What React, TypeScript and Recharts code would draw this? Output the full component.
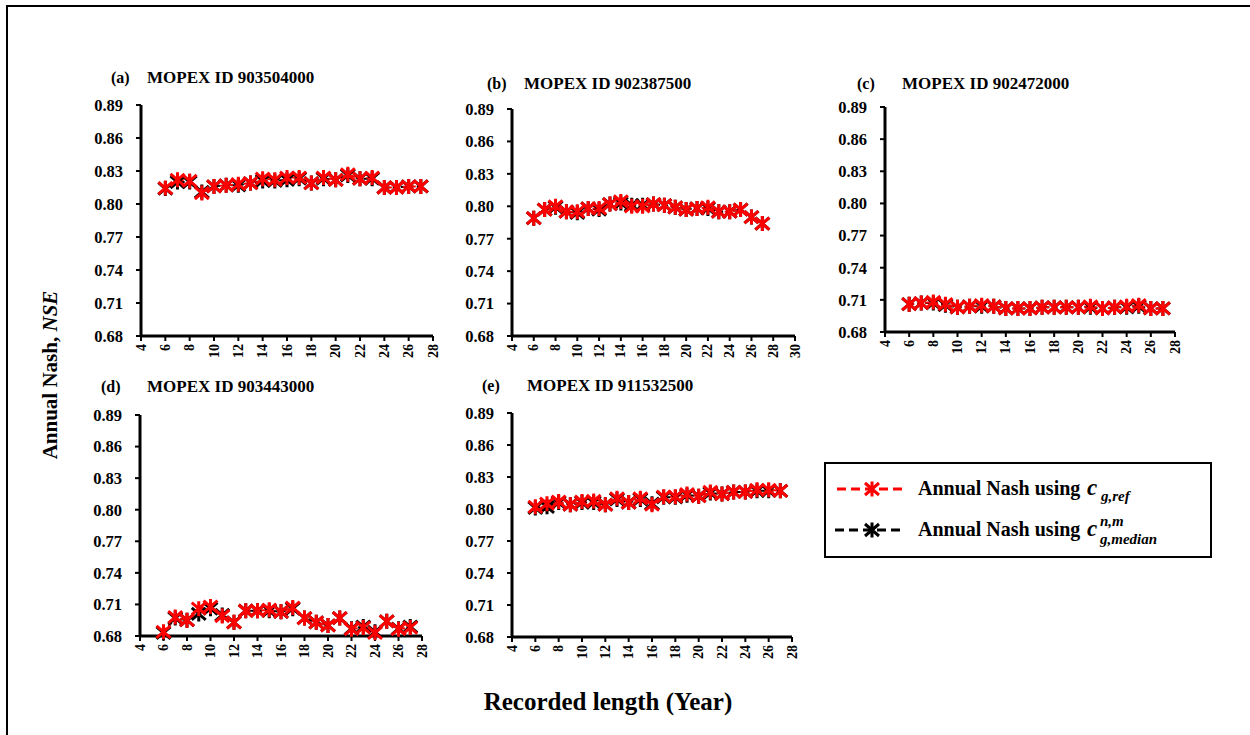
import React from "react";
import { LineChart, Line, XAxis, YAxis } from "recharts";

// ---------- DATA ----------
const years = [6, 7, 8, 9, 10, 11, 12, 13, 14, 15, 16, 17, 18, 19, 20, 21, 22, 23, 24, 25, 26, 27];
const yTicks = [0.68, 0.71, 0.74, 0.77, 0.8, 0.83, 0.86, 0.89];
const xTicks28 = [4, 6, 8, 10, 12, 14, 16, 18, 20, 22, 24, 26, 28];
const xTicks30 = [4, 6, 8, 10, 12, 14, 16, 18, 20, 22, 24, 26, 28, 30];

const aRef = [0.8145, 0.822, 0.821, 0.810, 0.816, 0.817, 0.818, 0.819, 0.823, 0.822, 0.824, 0.824, 0.819, 0.824, 0.822, 0.827, 0.823, 0.824, 0.815, 0.815, 0.816, 0.816];
const aMed = [0.814, 0.820, 0.820, 0.811, 0.816, 0.817, 0.817, 0.819, 0.821, 0.821, 0.822, 0.823, 0.819, 0.823, 0.822, 0.826, 0.823, 0.823, 0.815, 0.815, 0.816, 0.816];

const bRef = [0.789, 0.797, 0.800, 0.795, 0.795, 0.798, 0.798, 0.802, 0.8045, 0.800, 0.800, 0.802, 0.801, 0.799, 0.797, 0.798, 0.799, 0.795, 0.795, 0.797, 0.790, 0.784];
const bMed = [0.789, 0.797, 0.799, 0.795, 0.794, 0.798, 0.797, 0.802, 0.803, 0.801, 0.801, 0.802, 0.801, 0.799, 0.797, 0.798, 0.798, 0.795, 0.795, 0.797, 0.790, 0.784];

const cRef = [0.706, 0.707, 0.708, 0.706, 0.703, 0.704, 0.705, 0.704, 0.702, 0.702, 0.702, 0.703, 0.703, 0.703, 0.703, 0.704, 0.702, 0.703, 0.704, 0.705, 0.702, 0.702];
const cMed = [0.706, 0.707, 0.707, 0.705, 0.703, 0.704, 0.704, 0.704, 0.702, 0.702, 0.702, 0.703, 0.703, 0.703, 0.703, 0.703, 0.702, 0.703, 0.703, 0.704, 0.702, 0.702];

const dRef = [0.684, 0.698, 0.695, 0.706, 0.708, 0.699, 0.693, 0.704, 0.704, 0.705, 0.703, 0.707, 0.697, 0.693, 0.690, 0.697, 0.6865, 0.688, 0.683, 0.694, 0.6865, 0.688];
const dMed = [0.683, 0.697, 0.695, 0.701, 0.706, 0.700, 0.693, 0.704, 0.704, 0.704, 0.703, 0.706, 0.697, 0.693, 0.690, 0.697, 0.687, 0.689, 0.684, 0.694, 0.687, 0.689];

const eRef = [0.802, 0.805, 0.807, 0.804, 0.807, 0.8075, 0.804, 0.810, 0.806, 0.810, 0.804, 0.8115, 0.8115, 0.814, 0.812, 0.816, 0.814, 0.816, 0.816, 0.818, 0.818, 0.817];
const eMed = [0.801, 0.802, 0.806, 0.804, 0.806, 0.806, 0.804, 0.809, 0.806, 0.809, 0.805, 0.811, 0.811, 0.813, 0.812, 0.815, 0.814, 0.816, 0.816, 0.817, 0.817, 0.817];

const panelLabels = ["(a)", "(b)", "(c)", "(d)", "(e)"];
const panelIds = ["MOPEX ID 903504000", "MOPEX ID 902387500", "MOPEX ID 902472000", "MOPEX ID 903443000", "MOPEX ID 911532500"];

// ---------- STYLE ----------
const FONT = "'Liberation Serif', 'Times New Roman', 'DejaVu Serif', serif";
const RED = "#ff0000";
const BLACK = "#000000";

const layouts = [
  { x0: 141, x1: 433, y0: 105, y1: 336, xMax: 28, xTicks: xTicks28, lx: 111, ix: 147, ty: 83, ref: aRef, med: aMed },
  { x0: 512, x1: 795, y0: 109, y1: 336, xMax: 30, xTicks: xTicks30, lx: 487, ix: 524, ty: 89, ref: bRef, med: bMed },
  { x0: 885, x1: 1175, y0: 107, y1: 332, xMax: 28, xTicks: xTicks28, lx: 857, ix: 902, ty: 89, ref: cRef, med: cMed },
  { x0: 140, x1: 422, y0: 415, y1: 636, xMax: 28, xTicks: xTicks28, lx: 101, ix: 147, ty: 392, ref: dRef, med: dMed },
  { x0: 512, x1: 792, y0: 413, y1: 637, xMax: 28, xTicks: xTicks28, lx: 482, ix: 527, ty: 391, ref: eRef, med: eMed },
];

function starPath(cx: number, cy: number) {
  return `M${cx - 7},${cy - 6}L${cx + 7},${cy + 6}M${cx - 7},${cy + 6}L${cx + 7},${cy - 6}M${cx},${cy - 7.5}L${cx},${cy + 7.5}`;
}

const makeDot = (color: string) => (props: any) => {
  const { cx, cy, index } = props;
  if (cx == null || cy == null) return <g key={`n${index}`} />;
  return <path key={`s${color}${index}`} d={starPath(cx, cy)} stroke={color} strokeWidth={3} fill="none" />;
};

const XTick = (props: any) => {
  const { x, y, payload } = props;
  return (
    <text
      x={x}
      y={y}
      transform={`rotate(-90 ${x} ${y})`}
      textAnchor="end"
      dominantBaseline="central"
      fontSize={14}
      fontWeight="bold"
      fontFamily={FONT}
      fill="#000"
    >
      {payload.value}
    </text>
  );
};

const Panel = ({ L }: { L: any }) => {
  const data = years.map((yr, i) => ({ year: yr, ref: L.ref[i], med: L.med[i] }));
  const W = L.x1 - L.x0 + 70;
  const H = L.y1 - L.y0 + 40;
  return (
    <div style={{ position: "absolute", left: L.x0 - 60, top: L.y0 - 10, width: W, height: H }}>
      <LineChart width={W} height={H} data={data} margin={{ top: 10, right: 10, left: 0, bottom: 0 }}>
        <XAxis
          dataKey="year"
          type="number"
          domain={[4, L.xMax]}
          ticks={L.xTicks}
          interval={0}
          height={30}
          tickSize={5}
          tickMargin={3}
          axisLine={{ stroke: "#000", strokeWidth: 3 }}
          tickLine={{ stroke: "#000", strokeWidth: 2 }}
          tick={<XTick />}
        />
        <YAxis
          type="number"
          domain={[0.68, 0.89]}
          ticks={yTicks}
          interval={0}
          width={60}
          tickSize={5}
          tickMargin={13}
          tickFormatter={(v: number) => v.toFixed(2)}
          axisLine={{ stroke: "#000", strokeWidth: 3 }}
          tickLine={{ stroke: "#000", strokeWidth: 2 }}
          tick={{ fontSize: 16.5, fontWeight: "bold", fontFamily: FONT, fill: "#000" }}
        />
        <Line
          dataKey="med"
          type="linear"
          stroke={BLACK}
          strokeWidth={2}
          strokeDasharray="5 3"
          dot={makeDot(BLACK)}
          activeDot={false}
          isAnimationActive={false}
        />
        <Line
          dataKey="ref"
          type="linear"
          stroke={RED}
          strokeWidth={2}
          strokeDasharray="5 3"
          dot={makeDot(RED)}
          activeDot={false}
          isAnimationActive={false}
        />
      </LineChart>
    </div>
  );
};

export default function App() {
  return (
    <div style={{ position: "absolute", left: 0, top: 0, width: 1250, height: 735, background: "#fff", overflow: "hidden" }}>
      {layouts.map((L, i) => (
        <Panel key={i} L={L} />
      ))}
      <svg width={1250} height={735} style={{ position: "absolute", left: 0, top: 0, pointerEvents: "none" }}>
        {/* frame */}
        <path d="M7,740 L7,6 L1260,6" stroke="#000" strokeWidth={2} fill="none" />
        {/* panel titles */}
        {layouts.map((L, i) => (
          <g key={i} fontFamily={FONT} fontWeight="bold" fill="#000">
            <text x={L.lx} y={L.ty} fontSize={16}>{panelLabels[i]}</text>
            <text x={L.ix} y={L.ty} fontSize={17}>{panelIds[i]}</text>
          </g>
        ))}
        {/* axis titles */}
        <text
          x={50}
          y={375}
          transform="rotate(-90 50 375)"
          textAnchor="middle"
          dominantBaseline="central"
          fontFamily={FONT}
          fontWeight="bold"
          fontSize={21}
          fill="#000"
        >
          Annual Nash, <tspan fontStyle="italic">NSE</tspan>
        </text>
        <text x={608} y={710} textAnchor="middle" fontFamily={FONT} fontWeight="bold" fontSize={25} fill="#000">
          Recorded length (Year)
        </text>
        {/* legend */}
        <rect x={825} y={463} width={386} height={94} fill="#fff" stroke="#000" strokeWidth={2} />
        <line x1={837} y1={489} x2={903} y2={489} stroke={RED} strokeWidth={3} strokeDasharray="9 5" />
        <path d={starPath(872, 489)} stroke={RED} strokeWidth={3} fill="none" />
        <line x1={835} y1={530} x2={903} y2={530} stroke={BLACK} strokeWidth={3} strokeDasharray="9 5" />
        <path d={starPath(872, 530)} stroke={BLACK} strokeWidth={3} fill="none" />
        <g fontFamily={FONT} fontWeight="bold" fill="#000">
          <text x={918} y={495} fontSize={20}>Annual Nash using</text>
          <text x={1087} y={495} fontSize={23} fontStyle="italic">c</text>
          <text x={1101} y={501} fontSize={15} fontStyle="italic">g,ref</text>
          <text x={918} y={536} fontSize={20}>Annual Nash using</text>
          <text x={1087} y={536} fontSize={23} fontStyle="italic">c</text>
          <text x={1100} y={526} fontSize={15} fontStyle="italic">n,m</text>
          <text x={1100} y={544} fontSize={15} fontStyle="italic">g,median</text>
        </g>
      </svg>
    </div>
  );
}
